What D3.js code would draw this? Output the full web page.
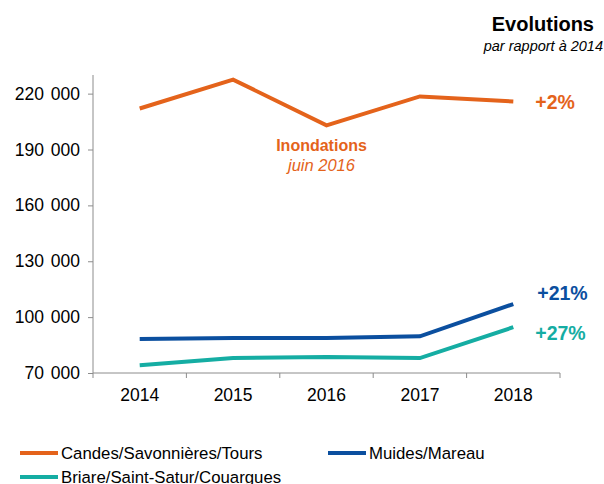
<!DOCTYPE html>
<html>
<head>
<meta charset="utf-8">
<script src="https://cdn.jsdelivr.net/npm/d3@7"></script>
<style>
  body { margin: 0; background: #fff; }
  svg { font-family: "Liberation Sans", Arial, sans-serif; }
  .axis path, .axis line { stroke: #8c8c8c; }
  .axis text { fill: #000; }
</style>
</head>
<body>
<div id="chart"></div>
<script>
// Data
const years = ['2014', '2015', '2016', '2017', '2018'];
const candes = [212000, 227500, 203000, 218500, 215800];
const muides = [88300, 88800, 88800, 89700, 107000];
const briare = [74200, 78000, 78600, 78000, 94600];
const seriesNames = ['Candes/Savonnières/Tours', 'Muides/Mareau', 'Briare/Saint-Satur/Couargues'];
const evolutions = ['+2%', '+21%', '+27%'];
const yTicks = [70000, 100000, 130000, 160000, 190000, 220000];

const colors = ['#e4631b', '#0b4f9f', '#15ada3'];
const series = [candes, muides, briare];

const W = 604, H = 484;
const margin = { top: 75, right: 44, bottom: 111, left: 93 };
const w = W - margin.left - margin.right;
const h = H - margin.top - margin.bottom;

const svg = d3.select('#chart').append('svg')
  .attr('width', W).attr('height', H);

const g = svg.append('g')
  .attr('transform', `translate(${margin.left},${margin.top})`);

const x = d3.scaleBand().domain(years).range([0, w]);
const y = d3.scaleLinear().domain([70000, 230000]).range([h, 0]);

const fmt = d => d3.format(',')(d).replace(/,/g, ' ');

// Y axis
const ya = g.append('g').attr('class', 'axis')
  .call(d3.axisLeft(y).tickValues(yTicks).tickSize(5).tickSizeOuter(0).tickPadding(8).tickFormat(fmt))
  .attr('font-size', 17.5).attr('font-family', null);
ya.select('.domain').attr('d', `M0,0V${h}`);
ya.selectAll('.tick text').attr('word-spacing', '2px');

// X axis: ticks at category boundaries
const xa = g.append('g').attr('class', 'axis')
  .attr('transform', `translate(0,${h})`)
  .call(d3.axisBottom(x).tickSize(0).tickPadding(16))
  .attr('font-size', 17.5).attr('font-family', null);
xa.select('.domain').attr('d', `M0,0H${w}`);
xa.selectAll('.bound').data(d3.range(years.length + 1)).enter().append('line')
  .attr('class', 'bound')
  .attr('x1', i => i * x.step()).attr('x2', i => i * x.step())
  .attr('y1', 0).attr('y2', 5)
  .attr('stroke', '#8c8c8c');

// Lines
const line = d3.line()
  .x((d, i) => x(years[i]) + x.bandwidth() / 2)
  .y(d => y(d));

series.forEach((s, k) => {
  g.append('path')
    .datum(s)
    .attr('d', line)
    .attr('fill', 'none')
    .attr('stroke', colors[k])
    .attr('stroke-width', 4)
    .attr('stroke-linejoin', 'miter');
});

// Evolution labels
const lastX = x('2018') + x.bandwidth() / 2;
const evoY = [candes[4], muides[4] + 6500, briare[4] - 2500];
const evoDx = [22, 24, 22];
evolutions.forEach((t, k) => {
  g.append('text')
    .attr('x', lastX + evoDx[k])
    .attr('y', y(evoY[k]) + 8)
    .attr('font-size', '19.5px')
    .attr('font-weight', 'bold')
    .attr('fill', colors[k])
    .text(t);
});

// Annotation
const ax = x('2016') + x.bandwidth() / 2 - 5;
g.append('text')
  .attr('x', ax).attr('y', y(189000))
  .attr('text-anchor', 'middle')
  .attr('font-size', '16px').attr('font-weight', 'bold')
  .attr('fill', colors[0])
  .text('Inondations');
g.append('text')
  .attr('x', ax).attr('y', y(178300))
  .attr('text-anchor', 'middle')
  .attr('font-size', '16.5px').attr('font-style', 'italic')
  .attr('fill', colors[0])
  .text('juin 2016');

// Title
svg.append('text')
  .attr('x', 594).attr('y', 31)
  .attr('text-anchor', 'end')
  .attr('font-size', '20px').attr('font-weight', 'bold')
  .text('Evolutions');
svg.append('text')
  .attr('x', 603).attr('y', 51)
  .attr('text-anchor', 'end')
  .attr('font-size', '14.5px').attr('font-style', 'italic')
  .text('par rapport à 2014');

// Legend
const legPos = [[20, 453], [328, 453], [20, 477]];
seriesNames.forEach((n, k) => {
  const [lx, ly] = legPos[k];
  svg.append('line')
    .attr('x1', lx).attr('x2', lx + 38)
    .attr('y1', ly).attr('y2', ly)
    .attr('stroke', colors[k]).attr('stroke-width', 4);
  svg.append('text')
    .attr('x', lx + 41).attr('y', ly + 6)
    .attr('font-size', '16.8px')
    .text(n);
});
</script>
</body>
</html>
